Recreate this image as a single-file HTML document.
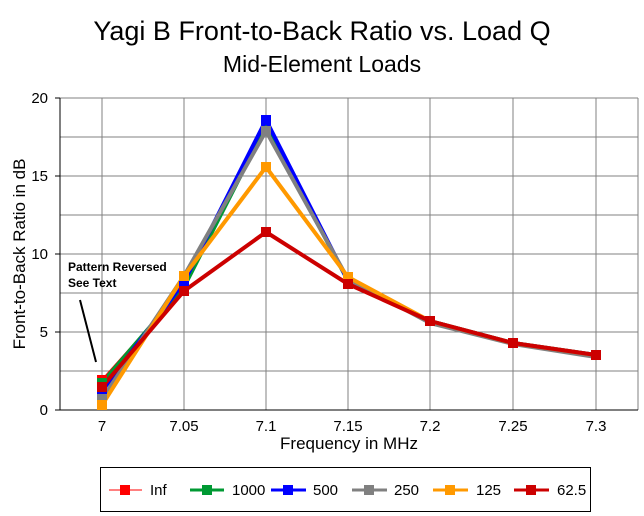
<!DOCTYPE html>
<html><head><style>body{margin:0;background:#fff}svg{display:block}</style></head><body>
<svg width="644" height="516" xmlns="http://www.w3.org/2000/svg" font-family="Liberation Sans, Arial, sans-serif">
<rect width="644" height="516" fill="#fff"/>
<text x="322" y="40" font-size="27" text-anchor="middle">Yagi B Front-to-Back Ratio vs. Load Q</text>
<text x="322" y="72" font-size="23" text-anchor="middle">Mid-Element Loads</text>
<g stroke="#808080" stroke-width="1">
<line x1="60" x2="638" y1="137" y2="137"/><line x1="60" x2="638" y1="176" y2="176"/><line x1="60" x2="638" y1="215" y2="215"/><line x1="60" x2="638" y1="254" y2="254"/><line x1="60" x2="638" y1="293" y2="293"/><line x1="60" x2="638" y1="332" y2="332"/><line x1="60" x2="638" y1="371" y2="371"/>
<line x1="102" x2="102" y1="98" y2="410"/><line x1="184" x2="184" y1="98" y2="410"/><line x1="266" x2="266" y1="98" y2="410"/><line x1="348" x2="348" y1="98" y2="410"/><line x1="430" x2="430" y1="98" y2="410"/><line x1="513" x2="513" y1="98" y2="410"/><line x1="596" x2="596" y1="98" y2="410"/>
<line x1="60" x2="638" y1="98" y2="98"/><line x1="638" x2="638" y1="98" y2="410"/>
</g>
<g stroke="#000"><line x1="60" x2="60" y1="98" y2="410"/><line x1="60" x2="638" y1="410" y2="410"/>
<line x1="55" x2="60" y1="98" y2="98"/><line x1="55" x2="60" y1="176" y2="176"/><line x1="55" x2="60" y1="254" y2="254"/><line x1="55" x2="60" y1="332" y2="332"/><line x1="55" x2="60" y1="410" y2="410"/></g>
<g font-size="15" text-anchor="end"><text x="48" y="103">20</text><text x="48" y="181">15</text><text x="48" y="259">10</text><text x="48" y="337">5</text><text x="48" y="415">0</text></g>
<g font-size="15" text-anchor="middle"><text x="102" y="431">7</text><text x="184" y="431">7.05</text><text x="266" y="431">7.1</text><text x="348" y="431">7.15</text><text x="430" y="431">7.2</text><text x="513" y="431">7.25</text><text x="596" y="431">7.3</text></g>
<text x="349" y="449" font-size="17" text-anchor="middle">Frequency in MHz</text>
<text transform="translate(25,254) rotate(-90)" font-size="17" text-anchor="middle">Front-to-Back Ratio in dB</text>
<text x="68" y="271" font-size="12" font-weight="bold">Pattern Reversed</text>
<text x="68" y="287" font-size="12" font-weight="bold">See Text</text>
<line x1="80" y1="300" x2="96" y2="362" stroke="#000" stroke-width="2"/>
<g fill="none" stroke-width="4" stroke-linejoin="round">
<polyline stroke="#ff0000" stroke-width="2" points="102,380 184,288 266,125 348,282 430,321 513,343 596,355"/>
<polyline stroke="#009933" points="102,383 184,287 266,126 348,281 430,321 513,343 596,355"/>
<polyline stroke="#0000ff" points="102,391 184,282 266,120 348,281 430,321 513,343 596,355"/>
<polyline stroke="#808080" points="102,399 184,276 266,131 348,279 430,323 513,344 596,357"/>
<polyline stroke="#ff9900" points="102,405 184,276 266,167 348,277 430,321 513,343 596,355"/>
<polyline stroke="#cc0000" points="102,387 184,291 266,232 348,284 430,321 513,343 596,355"/>
</g>
<g>
<g fill="#ff0000"><rect x="97" y="375" width="10" height="10"/></g>
<g fill="#009933"><rect x="97" y="378" width="10" height="10"/><rect x="179" y="282" width="10" height="10"/></g>
<g fill="#0000ff"><rect x="97" y="386" width="10" height="10"/><rect x="179" y="277" width="10" height="10"/><rect x="261" y="115" width="10" height="10"/></g>
<g fill="#808080"><rect x="97" y="394" width="10" height="10"/><rect x="261" y="126" width="10" height="10"/></g>
<g fill="#ff9900"><rect x="97" y="400" width="10" height="10"/><rect x="179" y="271" width="10" height="10"/><rect x="261" y="162" width="10" height="10"/><rect x="343" y="272" width="10" height="10"/></g>
<g fill="#cc0000"><rect x="97" y="382" width="10" height="10"/><rect x="179" y="286" width="10" height="10"/><rect x="261" y="227" width="10" height="10"/><rect x="343" y="279" width="10" height="10"/><rect x="425" y="316" width="10" height="10"/><rect x="508" y="338" width="10" height="10"/><rect x="591" y="350" width="10" height="10"/></g>
</g>
<rect x="100.5" y="467.5" width="490" height="44" fill="none" stroke="#000"/>
<g font-size="15">
<line x1="109" x2="142" y1="490" y2="490" stroke="#ff0000"/><rect x="120" y="485" width="10" height="10" fill="#ff0000"/><text x="150" y="495">Inf</text>
<line x1="190" x2="224" y1="490" y2="490" stroke="#009933" stroke-width="3"/><rect x="202" y="485" width="10" height="10" fill="#009933"/><text x="232" y="495">1000</text>
<line x1="271" x2="306" y1="490" y2="490" stroke="#0000ff" stroke-width="3"/><rect x="283" y="485" width="10" height="10" fill="#0000ff"/><text x="313" y="495">500</text>
<line x1="352" x2="387" y1="490" y2="490" stroke="#808080" stroke-width="3"/><rect x="364" y="485" width="10" height="10" fill="#808080"/><text x="394" y="495">250</text>
<line x1="433" x2="468" y1="490" y2="490" stroke="#ff9900" stroke-width="3"/><rect x="445" y="485" width="10" height="10" fill="#ff9900"/><text x="476" y="495">125</text>
<line x1="514" x2="549" y1="490" y2="490" stroke="#cc0000" stroke-width="3"/><rect x="526" y="485" width="10" height="10" fill="#cc0000"/><text x="557" y="495">62.5</text>
</g>
</svg>
</body></html>
